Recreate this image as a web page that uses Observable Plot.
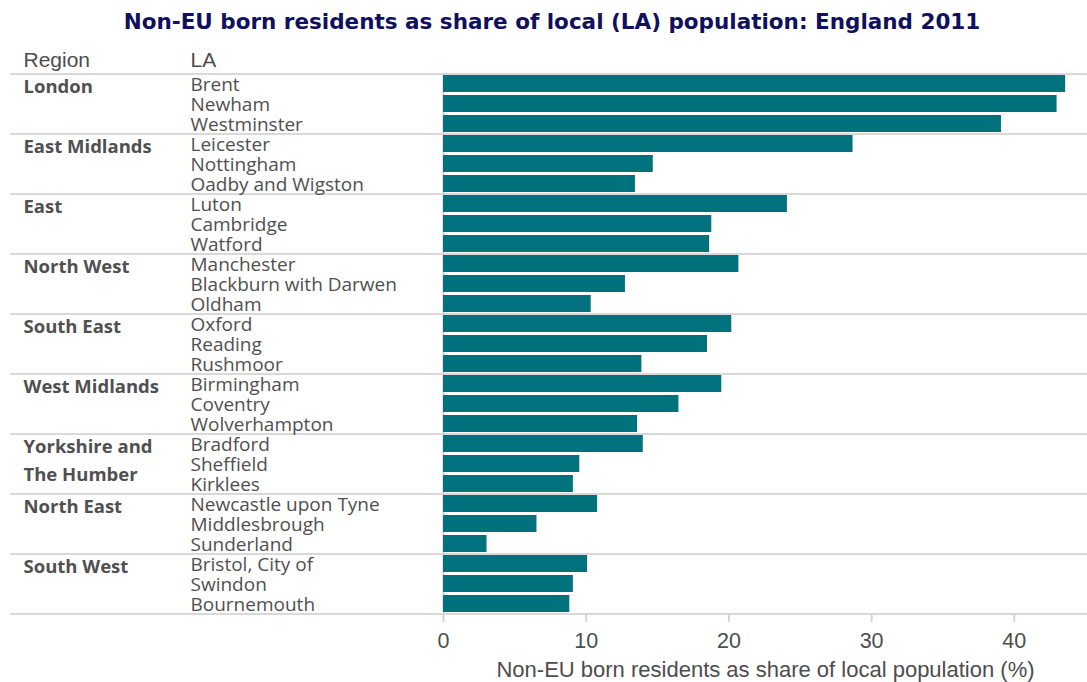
<!DOCTYPE html>
<html>
<head>
<meta charset="utf-8">
<script src="https://cdn.jsdelivr.net/npm/d3@7"></script>
<script src="https://cdn.jsdelivr.net/npm/@observablehq/plot@0.6"></script>
<style>
  html, body { margin: 0; padding: 0; background: #ffffff; }
  #title {
    height: 40px;
    line-height: 44px;
    text-align: center;
    padding-left: 17px;
    font-family: "DejaVu Sans", sans-serif;
    font-weight: bold;
    font-size: 21.5px;
    color: #101060;
    white-space: nowrap;
  }
  #chart svg { display: block; }
</style>
</head>
<body>
<div id="title">Non-EU born residents as share of local (LA) population: England 2011</div>
<div id="chart"></div>
<script>
// Regions in display order (each holds three LAs)
const regions = [
  "London", "East Midlands", "East", "North West", "South East",
  "West Midlands", "Yorkshire and The Humber", "North East", "South West"
];

// Local authorities in display order
const las = [
  "Brent", "Newham", "Westminster",
  "Leicester", "Nottingham", "Oadby and Wigston",
  "Luton", "Cambridge", "Watford",
  "Manchester", "Blackburn with Darwen", "Oldham",
  "Oxford", "Reading", "Rushmoor",
  "Birmingham", "Coventry", "Wolverhampton",
  "Bradford", "Sheffield", "Kirklees",
  "Newcastle upon Tyne", "Middlesbrough", "Sunderland",
  "Bristol, City of", "Swindon", "Bournemouth"
];

// Region of each LA
const laRegions = [
  "London", "London", "London",
  "East Midlands", "East Midlands", "East Midlands",
  "East", "East", "East",
  "North West", "North West", "North West",
  "South East", "South East", "South East",
  "West Midlands", "West Midlands", "West Midlands",
  "Yorkshire and The Humber", "Yorkshire and The Humber", "Yorkshire and The Humber",
  "North East", "North East", "North East",
  "South West", "South West", "South West"
];

// Non-EU born residents as share of local population (%)
const shares = [
  43.6, 43.0, 39.1,
  28.7, 14.7, 13.45,
  24.1, 18.8, 18.65,
  20.7, 12.75, 10.35,
  20.2, 18.5, 13.9,
  19.5, 16.5, 13.6,
  14.0, 9.55, 9.1,
  10.8, 6.55, 3.05,
  10.1, 9.1, 8.85
];

const xTicks = [0, 10, 20, 30, 40];
const xLabel = "Non-EU born residents as share of local population (%)";
const headers = ["Region", "LA"];

// Build table
const rows = las.map((la, i) => ({la, region: laRegions[i], value: shares[i]}));
const groupStarts = regions.map(r => ({region: r, la: rows.find(d => d.region === r).la}));
const lastLA = [las[las.length - 1]];

const textColor = "#505050";
const axisColor = "#4d4d4d";
const lineColor = "#d9d9d9";
const sansLA = "'Open Sans', 'Noto Sans', sans-serif";
const sansAxis = "'Liberation Sans', Arial, sans-serif";

const chart = Plot.plot({
  width: 1087,
  height: 642,
  marginTop: 33,
  marginBottom: 69,
  marginLeft: 443,
  marginRight: 0,
  style: {fontFamily: sansAxis, background: "#ffffff"},
  x: {domain: [0, 45.13], ticks: xTicks},
  y: {domain: las, paddingInner: 0.15, paddingOuter: 0.075, axis: null},
  marks: [
    // group separator lines
    Plot.ruleY(groupStarts, {y: "la", dy: -10, stroke: lineColor, strokeWidth: 2, insetLeft: -433}),
    Plot.ruleY(lastLA, {y: d => d, dy: 10, stroke: lineColor, strokeWidth: 2, insetLeft: -433}),
    // zero line
    Plot.ruleX([0], {stroke: "#cfcfcf", strokeWidth: 2}),
    // bars
    Plot.barX(rows, {y: "la", x: "value", fill: "#00727e"}),
    // axis
    Plot.axisX({
      ticks: xTicks, tickSize: 9, tickPadding: 10, stroke: "#d4d4d4", strokeWidth: 2,
      fill: axisColor, fontSize: 21.5, label: null, fontFamily: sansAxis
    }),
    Plot.text([xLabel], {
      frameAnchor: "bottom", lineAnchor: "middle", textAnchor: "middle", dy: 56,
      fontSize: 22, fill: axisColor, fontFamily: sansAxis
    }),
    // headers
    Plot.text([headers[0]], {
      frameAnchor: "top-left", lineAnchor: "middle", textAnchor: "start", dx: -420, dy: -13,
      fontSize: 21, fill: axisColor, fontFamily: sansAxis
    }),
    Plot.text([headers[1]], {
      frameAnchor: "top-left", lineAnchor: "middle", textAnchor: "start", dx: -253, dy: -13,
      fontSize: 21, fill: axisColor, fontFamily: sansAxis
    }),
    // LA labels
    Plot.text(rows, {
      y: "la", text: "la", frameAnchor: "left", textAnchor: "start", lineAnchor: "middle",
      dx: -253, dy: 1, fontSize: 19, fill: textColor, fontFamily: sansLA
    }),
    // Region labels
    Plot.text(groupStarts, {
      y: "la", text: d => d.region.replace(" The ", "\nThe "),
      frameAnchor: "left", textAnchor: "start", lineAnchor: "top",
      dx: -420, dy: -10.5, lineHeight: 1.5,
      fontSize: 18.5, fontWeight: "bold", fill: textColor, fontFamily: sansLA
    })
  ]
});

document.getElementById("chart").appendChild(chart);
</script>
</body>
</html>
